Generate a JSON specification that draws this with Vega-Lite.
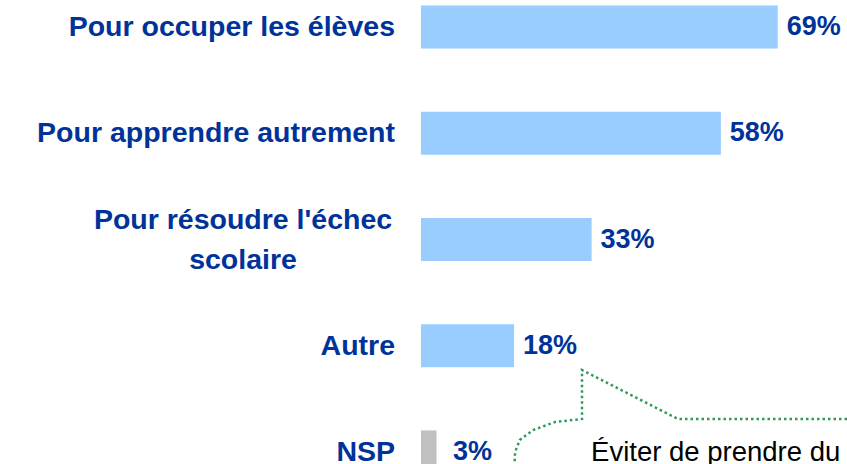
{
  "$schema": "https://vega.github.io/schema/vega-lite/v6.json",
  "width": 426,
  "height": 479,
  "autosize": {"type": "none"},
  "padding": {"left": 421, "top": 0, "right": 0, "bottom": 0},
  "background": "white",
  "config": {"view": {"stroke": null}, "font": "Liberation Sans"},
  "datasets": {
    "bars": [
      {"cat": "Pour occuper les élèves", "value": 0.69, "kind": "main"},
      {"cat": "Pour apprendre autrement", "value": 0.58, "kind": "main"},
      {"cat": "Pour résoudre l'échec\nscolaire", "value": 0.33, "kind": "main"},
      {"cat": "Autre", "value": 0.18, "kind": "main"},
      {"cat": "NSP", "value": 0.03, "kind": "nsp"}
    ],
    "callout": [
      {"i": 0, "x": 0.824, "y": 3.689},
      {"i": 1, "x": 0.497, "y": 3.689},
      {"i": 2, "x": 0.3114, "y": 3.228},
      {"i": 3, "x": 0.3114, "y": 3.689},
      {"i": 4, "x": 0.259, "y": 3.718},
      {"i": 5, "x": 0.217, "y": 3.793},
      {"i": 6, "x": 0.191, "y": 3.887},
      {"i": 7, "x": 0.182, "y": 4.0},
      {"i": 8, "x": 0.18, "y": 4.2}
    ],
    "note": [{"x": 0.329, "y": 4.085, "text": "Éviter de prendre du"}]
  },
  "resolve": {"scale": {"y": "independent"}},
  "layer": [
    {
      "data": {"name": "bars"},
      "encoding": {
        "y": {"field": "cat", "type": "nominal", "sort": null, "scale": {"paddingInner": 0.595, "paddingOuter": 0.052}, "axis": null},
        "x": {"field": "value", "type": "quantitative", "scale": {"domain": [0, 0.824], "nice": false, "zero": true}, "axis": null}
      },
      "layer": [
        {
          "mark": {"type": "bar"},
          "encoding": {
            "color": {"field": "kind", "type": "nominal", "scale": {"domain": ["main", "nsp"], "range": ["#99CCFF", "#C0C0C0"]}, "legend": null}
          }
        },
        {
          "mark": {"type": "text", "align": "center", "baseline": "middle", "dx": 36, "fontSize": 27, "fontWeight": "bold", "color": "#003399"},
          "encoding": {"text": {"field": "value", "type": "quantitative", "format": ".0%"}}
        },
        {
          "transform": [{"filter": "indexof(datum.cat, '\\n') < 0"}],
          "mark": {"type": "text", "align": "right", "baseline": "middle", "dx": -26, "fontSize": 28.5, "fontWeight": "bold", "color": "#003399"},
          "encoding": {"x": {"datum": 0}, "text": {"field": "cat"}}
        },
        {
          "transform": [{"filter": "indexof(datum.cat, '\\n') >= 0"}],
          "mark": {"type": "text", "align": "center", "baseline": "middle", "dx": -178, "dy": -20, "lineBreak": "\n", "lineHeight": 40, "fontSize": 28.5, "fontWeight": "bold", "color": "#003399"},
          "encoding": {"x": {"datum": 0}, "text": {"field": "cat"}}
        }
      ]
    },
    {
      "data": {"name": "callout"},
      "layer": [
        {
          "mark": {"type": "line", "color": "#2E9A5C", "strokeWidth": 2.5, "strokeDash": [2.5, 3], "interpolate": "linear"},
          "encoding": {
            "x": {"field": "x", "type": "quantitative"},
            "y": {"field": "y", "type": "quantitative", "scale": {"domain": [-0.254, 4.254], "nice": false, "zero": false, "reverse": true}, "axis": null},
            "order": {"field": "i"}
          }
        }
      ]
    },
    {
      "data": {"name": "note"},
      "mark": {"type": "text", "align": "left", "baseline": "alphabetic", "fontSize": 27.5, "color": "#000000"},
      "encoding": {
        "x": {"field": "x", "type": "quantitative"},
        "y": {"field": "y", "type": "quantitative", "scale": {"domain": [-0.254, 4.254], "nice": false, "zero": false, "reverse": true}, "axis": null},
        "text": {"field": "text"}
      }
    }
  ]
}
